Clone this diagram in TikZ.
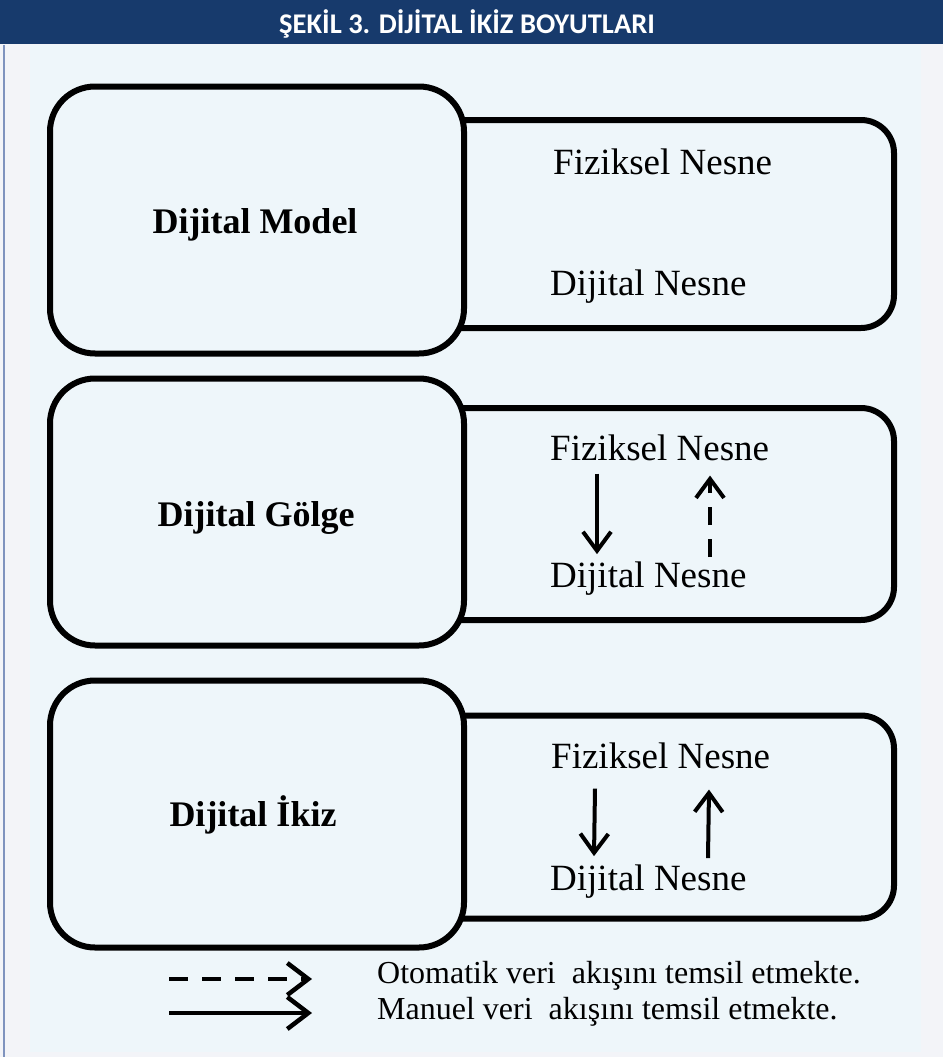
\documentclass[tikz,border=0pt]{standalone}
\usepackage{fontspec}
\setmainfont{Liberation Serif}
\newfontfamily\titlefont{Carlito}
\usetikzlibrary{arrows.meta}

\definecolor{barblue}{HTML}{173A6C}
\definecolor{panel}{HTML}{EEF6FA}
\definecolor{outside}{HTML}{F3F4F8}
\definecolor{edgeblue}{HTML}{7F93BE}

\tikzset{
  bigbox/.style={draw, line width=6pt, rounded corners=45pt, fill=panel,
    minimum width=414pt, minimum height=267pt},
  boxlabel/.style={font=\fontsize{36}{40}\selectfont\bfseries, anchor=base, inner sep=0pt},
  sidebox/.style={draw, line width=6pt, rounded corners=33pt, fill=panel,
    minimum width=474pt},
  objlabel/.style={font=\fontsize{37}{42}\selectfont, anchor=base west, inner sep=0pt},
  legendtext/.style={font=\fontsize{32}{36}\selectfont, anchor=west, inner sep=0pt},
  flow/.style={line width=4pt, -{Straight Barb[length=19pt,width=28pt]}},
  autoflow/.style={flow, dash pattern=on 18pt off 14pt},
  keyflow/.style={line width=4.5pt, -{Straight Barb[length=21pt,width=32pt]}},
}

\begin{document}
\begin{tikzpicture}[x=1pt,y=-1pt]
\useasboundingbox (0,0) rectangle (943,1057);
\fill[outside] (0,0) rectangle (943,1057);
\fill[panel] (30,45) rectangle (921,1052);
\draw[edgeblue, line width=1.5pt] (4,45) -- (4,1057);
\fill[barblue] (0,0) rectangle (943,44);
\node[text=white, font=\titlefont\fontsize{28.5}{31}\selectfont\bfseries] (title) at (467,24) {ŞEKİL 3. DİJİTAL İKİZ BOYUTLARI};

% Dijital Model
\node[sidebox, minimum height=208pt] (side1) at (657,224) {};
\node[bigbox] (model) at (257,220) {};
\node[boxlabel] (modeltext) at (255,233) {Dijital Model};
\node[objlabel] (fiz1) at (553,174) {Fiziksel Nesne};
\node[objlabel] (dij1) at (550,295) {Dijital Nesne};

% Dijital Golge
\node[sidebox, minimum height=212pt] (side2) at (657,514) {};
\node[bigbox] (golge) at (257,512) {};
\node[boxlabel] (golgetext) at (256,526) {Dijital Gölge};
\node[objlabel] (fiz2) at (550,460) {Fiziksel Nesne};
\node[objlabel] (dij2) at (550,587) {Dijital Nesne};
\draw[flow] ([xshift=47pt,yshift=-13pt]fiz2.south west) -- ([xshift=47pt,yshift=7pt]dij2.north west);
\draw[autoflow] ([xshift=160pt,yshift=4pt]dij2.north west) -- ([xshift=160pt,yshift=-15pt]fiz2.south west);

% Dijital Ikiz
\node[sidebox, minimum height=203pt] (side3) at (657,817) {};
\node[bigbox] (ikiz) at (257,814) {};
\node[boxlabel] (ikiztext) at (253,826) {Dijital İkiz};
\node[objlabel] (fiz3) at (551,768) {Fiziksel Nesne};
\node[objlabel] (dij3) at (550,890) {Dijital Nesne};
\draw[flow] ([xshift=44pt,yshift=-20pt]fiz3.south west) -- ([xshift=44pt,yshift=8pt]dij3.north west);
\draw[flow] ([xshift=158pt,yshift=6pt]dij3.north west) -- ([xshift=158pt,yshift=-21pt]fiz3.south west);

% legend
\coordinate (autostart) at (169,979);
\coordinate (autoend) at (312,979);
\coordinate (manstart) at (169,1013);
\coordinate (manend) at (312,1013);
\draw[keyflow, dash pattern=on 19pt off 14pt] (autostart) -- (autoend);
\draw[keyflow] (manstart) -- (manend);
\node[legendtext] (autotext) at (377,976) {Otomatik veri\ \ akışını temsil etmekte.};
\node[legendtext] (mantext) at (377,1012) {Manuel veri\ \ akışını temsil etmekte.};
\end{tikzpicture}
\end{document}
